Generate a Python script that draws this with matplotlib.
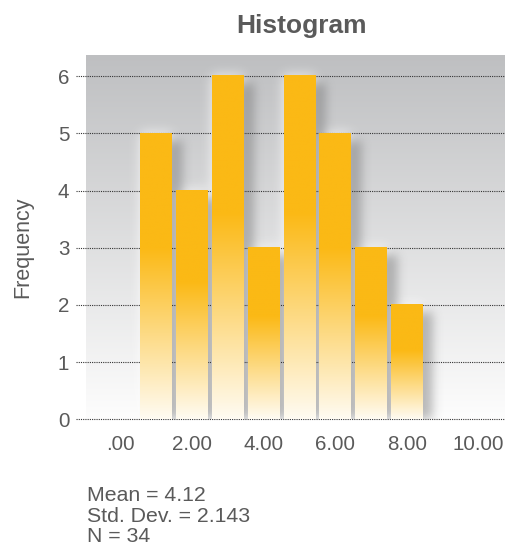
import numpy as np
import matplotlib
matplotlib.use('Agg')
import matplotlib.pyplot as plt

# ---- data ----
bin_centers = [1, 2, 3, 4, 5, 6, 7, 8]
counts = [5, 4, 6, 3, 6, 5, 3, 2]
x_ticks = [0, 2, 4, 6, 8, 10]
x_tick_labels = ['.00', '2.00', '4.00', '6.00', '8.00', '10.00']
y_ticks = [0, 1, 2, 3, 4, 5, 6]
stats_lines = ['Mean = 4.12', 'Std. Dev. = 2.143', 'N = 34']
title_text = 'Histogram'
y_label = 'Frequency'

plt.rcParams['font.family'] = ['Liberation Sans', 'DejaVu Sans']

W, H = 506, 546
fig = plt.figure(figsize=(W / 100, H / 100), dpi=100)
ax_l, ax_r, ax_t, ax_b = 86, 506, 55, 419.3
ax = fig.add_axes([ax_l / W, 1 - ax_b / H, (ax_r - ax_l) / W, (ax_b - ax_t) / H])

xlim = (-0.96, 10.77)
ylim = (0, 6.37)
bar_w = 0.885
text_col = '#5a5a5a'

px_per_x = (ax_r - ax_l) / (xlim[1] - xlim[0])
px_per_y = (ax_b - ax_t) / (ylim[1] - ylim[0])

# ---- background gradient ----
t = np.linspace(0, 1, 256)[:, None, None]
top_c = np.array([190, 191, 193]) / 255
bot_c = np.array([253, 253, 253]) / 255
bg = top_c * (1 - t) + bot_c * t
ax.imshow(bg, extent=[xlim[0], xlim[1], ylim[0], ylim[1]], aspect='auto',
          zorder=0, interpolation='bilinear')

# ---- glow and shadow computed from bars ----
res = 2
nx = int((ax_r - ax_l) * res)
ny = int((ax_b - ax_t) * res)
xs = xlim[0] + (np.arange(nx) + 0.5) / nx * (xlim[1] - xlim[0])
ys = ylim[1] - (np.arange(ny) + 0.5) / ny * (ylim[1] - ylim[0])
X, Y = np.meshgrid(xs, ys)


def bar_mask(dx_px, dy_px):
    dx = dx_px / px_per_x
    dy = dy_px / px_per_y
    m = np.zeros((ny, nx))
    for c, h in zip(bin_centers, counts):
        sel = (X >= c - bar_w / 2 + dx) & (X <= c + bar_w / 2 + dx) & (Y >= dy - 1) & (Y <= h + dy)
        m[sel] = 1.0
    return m


def blur(m, sigma_px):
    s = sigma_px * res
    r = int(3 * s)
    k = np.exp(-0.5 * (np.arange(-r, r + 1) / s) ** 2)
    k /= k.sum()
    m = np.apply_along_axis(lambda v: np.convolve(v, k, mode='same'), 1, m)
    m = np.apply_along_axis(lambda v: np.convolve(v, k, mode='same'), 0, m)
    return m


glow = blur(bar_mask(0, 0), 6)
glow_img = np.zeros((ny, nx, 4))
glow_img[..., :3] = 1.0
glow_img[..., 3] = np.clip(glow * 0.8, 0, 1)
ax.imshow(glow_img, extent=[xlim[0], xlim[1], ylim[0], ylim[1]], aspect='auto',
          zorder=1, interpolation='bilinear')

shadow = blur(bar_mask(10, -8), 5)
sh_img = np.zeros((ny, nx, 4))
sh_img[..., :3] = 0.3
sh_img[..., 3] = np.clip(shadow * 0.38, 0, 1)
ax.imshow(sh_img, extent=[xlim[0], xlim[1], ylim[0], ylim[1]], aspect='auto',
          zorder=2, interpolation='bilinear')

# ---- grid lines (extending left as tick marks) ----
ax.hlines(y_ticks, xlim[0] - 10 / px_per_x, xlim[1], colors='#333333',
          linestyles=(0, (1, 1)), linewidth=0.8, zorder=3, clip_on=False)

# ---- bars with vertical gradient ----
orange = np.array([251, 185, 21]) / 255
pale = np.array([255, 251, 242]) / 255
frac = np.linspace(1, 0, 256)  # top -> bottom
mix = np.clip(frac / 0.6, 0, 1)[:, None]
bar_grad = (pale * (1 - mix) + orange * mix)[:, None, :]
for c, h in zip(bin_centers, counts):
    ax.imshow(bar_grad, extent=[c - bar_w / 2, c + bar_w / 2, 0, h], aspect='auto',
              zorder=4, interpolation='bilinear')

ax.set_xlim(*xlim)
ax.set_ylim(*ylim)
for s in ax.spines.values():
    s.set_visible(False)

ax.set_xticks(x_ticks)
ax.set_xticklabels(x_tick_labels)
ax.set_yticks(y_ticks)
ax.set_yticklabels([str(v) for v in y_ticks])
ax.tick_params(axis='both', length=0, labelsize=14.8, labelcolor=text_col)
ax.tick_params(axis='x', pad=11)
ax.tick_params(axis='y', pad=12)

fig.text(302 / W, 1 - 26 / H, title_text, ha='center', va='center',
         fontsize=19, fontweight='bold', color=text_col)
fig.text(23 / W, 1 - 247 / H, y_label, rotation=90, ha='center', va='center',
         fontsize=15.5, color=text_col)

baselines = [501, 522, 542]
for line, b in zip(stats_lines, baselines):
    fig.text(87 / W, 1 - b / H, line, ha='left', va='baseline',
             fontsize=15.3, color=text_col)

fig.savefig('out.png', dpi=100)
